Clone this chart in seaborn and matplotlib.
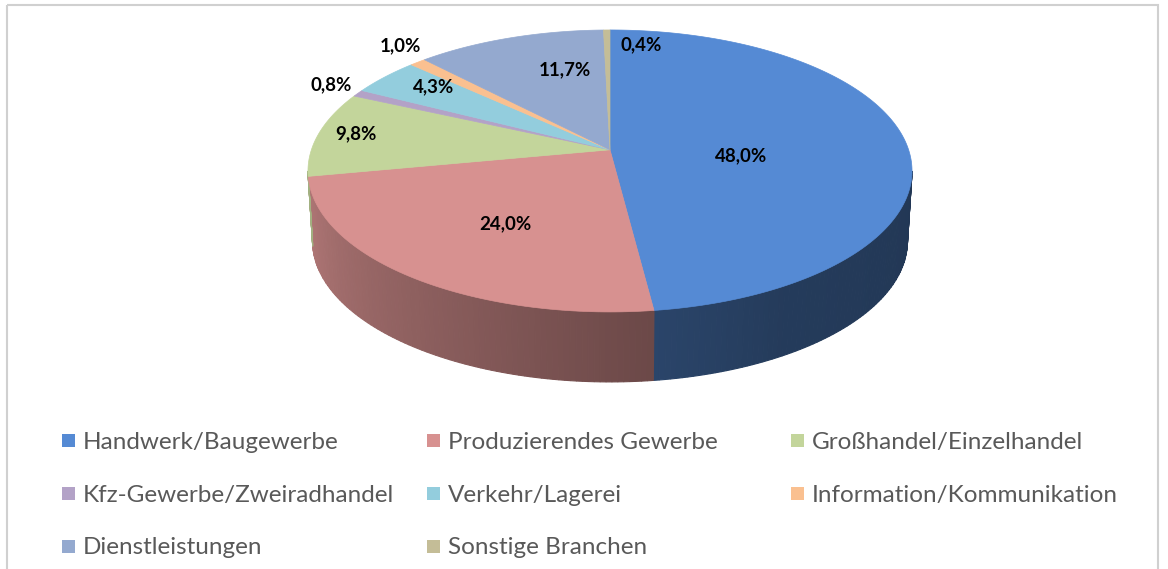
# Imports
import numpy as np
import seaborn as sns
import matplotlib.pyplot as plt
from matplotlib.patches import Polygon, Rectangle

# -------- DATA --------#

categories = ["Handwerk/Baugewerbe", "Produzierendes Gewerbe", "Großhandel/Einzelhandel",
              "Kfz-Gewerbe/Zweiradhandel", "Verkehr/Lagerei", "Information/Kommunikation",
              "Dienstleistungen", "Sonstige Branchen"]
shares = [48.0, 24.0, 9.8, 0.8, 4.3, 1.0, 11.7, 0.4]
colors = ["#558ad4", "#d79190", "#c3d59b", "#b3a2c7", "#93cddd", "#fac090", "#94a9cf", "#c4bd97"]

# -------- LAYOUT --------#

W, H = 1168, 569
CX, CY = 610, 149.8       # projected centre of the top disc
A, B = 298.6, 137.8       # half axes of the top disc
K = 0.15                  # perspective strength
DEPTH = 70                # height of the cylinder wall
BOTTOM_SCALE = 0.985

# label radius (fraction of the disc), nudge in px, alignment
label_layout = {
    "Handwerk/Baugewerbe": (0.45, -2, 10, "center"),
    "Produzierendes Gewerbe": (0.60, 9, 2, "center"),
    "Großhandel/Einzelhandel": (0.80, -20, -3, "center"),
    "Kfz-Gewerbe/Zweiradhandel": (1.15, 8, -1, "center"),
    "Verkehr/Lagerei": (0.75, -4, -7, "center"),
    "Information/Kommunikation": (1.15, 8, -5, "center"),
    "Dienstleistungen": (0.62, 20, -7, "center"),
    "Sonstige Branchen": (0.82, 13, -4, "left"),
}


def project(theta_deg, r=1.0):
    '''
    map an angle on the disc to screen pixels (simple perspective)
    '''
    t = np.radians(theta_deg)
    u, v = r * np.cos(t), r * np.sin(t)
    s = 1.0 / (1.0 + K * v)
    return CX + A * u * s, CY - B * v * s


def bottom(x, y):
    return CX + (np.asarray(x) - CX) * BOTTOM_SCALE, np.asarray(y) + DEPTH


def shade(theta_deg):
    '''
    lighting factor for the wall, lighter on the left
    '''
    t = np.mod(theta_deg, 360)
    return np.interp(t, [188, 277, 300, 352], [0.84, 0.50, 0.43, 0.40])


# -------- PLOT --------#

sns.set_theme(style="white")
plt.rcParams['font.family'] = ['Lato', 'DejaVu Sans']

fig = plt.figure(figsize=(W / 100, H / 100), dpi=100)
ax = fig.add_axes([0, 0, 1, 1])
ax.set_xlim(0, W)
ax.set_ylim(H, 0)
ax.axis('off')

palette = sns.color_palette(colors)

# slice angles, clockwise from 12 o'clock
ends = 90 - np.cumsum(shares) * 3.6
starts = ends + np.array(shares) * 3.6

# visible wall between the two silhouette points
t_left = 180 + np.degrees(np.arcsin(K))
t_right = 360 - np.degrees(np.arcsin(K))

for hi, lo, col in zip(starts, ends, palette):
    for shift in (-360, 0, 360):
        a = max(lo, t_left + shift)
        b = min(hi, t_right + shift)
        if a >= b:
            continue
        steps = np.linspace(a, b, int(np.ceil(b - a)) + 2)
        for t0, t1 in zip(steps[:-1], steps[1:]):
            tt = np.linspace(t0, t1, 3)
            xs, ys = project(tt)
            bx, by = bottom(xs, ys)
            pts = np.column_stack([np.r_[xs, bx[::-1]], np.r_[ys, by[::-1]]])
            c = np.array(col) * shade((t0 + t1) / 2)
            ax.add_patch(Polygon(pts, closed=True, facecolor=c, edgecolor=c, lw=0.8))

# top face
for hi, lo, col in zip(starts, ends, palette):
    tt = np.linspace(hi, lo, max(int(abs(hi - lo)) * 2, 4))
    xs, ys = project(tt)
    pts = np.column_stack([np.r_[CX, xs], np.r_[CY, ys]])
    ax.add_patch(Polygon(pts, closed=True, facecolor=col, edgecolor=col, lw=0.5))

# data labels
for cat, hi, lo, val in zip(categories, starts, ends, shares):
    r, dx, dy, ha = label_layout[cat]
    x, y = project((hi + lo) / 2, r)
    ax.text(x + dx, y + dy, f"{val:.1f}".replace(".", ",") + "%", ha=ha, va='center',
            fontsize=13.5, fontweight='bold', color='black')

# legend, row by row like the original
for i, (cat, col) in enumerate(zip(categories, palette)):
    row, c = divmod(i, 3)
    x0 = 62 + c * 364.5
    y0 = 441 + row * 53
    ax.add_patch(Rectangle((x0, y0 - 7), 13, 13, facecolor=col, edgecolor='none'))
    ax.text(x0 + 21, y0 + 1, cat, ha='left', va='center', fontsize=17.5, color='#595959')

# chart frame
ax.add_patch(Rectangle((6.5, 5), 1151, 620, facecolor='none', edgecolor='#d0d0d0',
                       lw=1.5, clip_on=False))

plt.savefig("out.png", dpi=100)
